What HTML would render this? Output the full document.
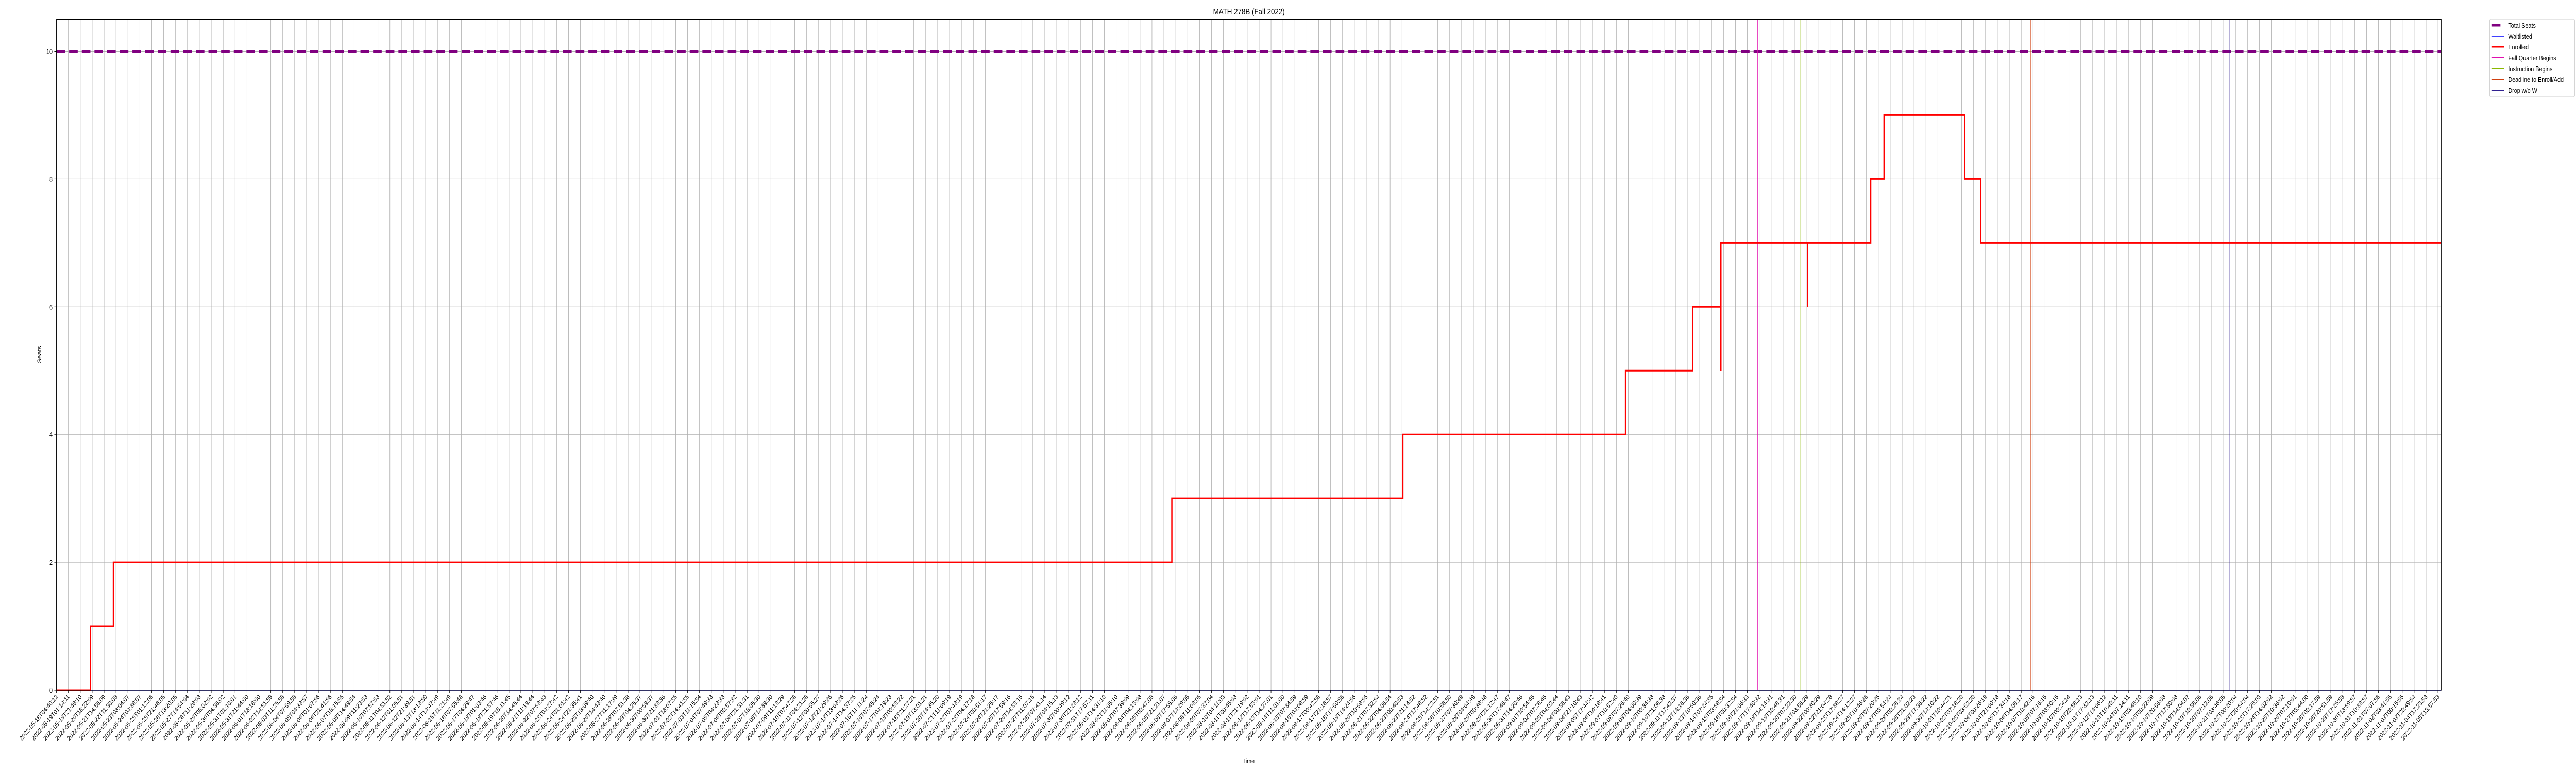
<!DOCTYPE html>
<html><head><meta charset="utf-8"><style>
html,body{margin:0;padding:0;background:#fff;overflow:hidden;width:100%;height:100%;}
svg{display:block;width:100vw;height:100vh;font-family:"Liberation Sans","DejaVu Sans",sans-serif;}
</style></head><body>
<svg id="chart" viewBox="0 0 6000 1500" preserveAspectRatio="none" xmlns="http://www.w3.org/2000/svg">
<rect x="0" y="0" width="6000" height="1500" fill="#fff"/>
<text x="2909" y="28" font-size="16" text-anchor="middle" fill="#000">MATH 278B (Fall 2022)</text>
<text x="0" y="0" font-size="13" text-anchor="middle" fill="#000" transform="translate(96,688) rotate(-90)">Seats</text>
<text x="2908" y="1481" font-size="13" text-anchor="middle" fill="#000">Time</text>
<g id="grid"></g><g id="marks"></g><g id="axes"></g>
<g>
<rect x="5799" y="37" width="198" height="151" rx="3" fill="#fff" stroke="#ccc" stroke-width="1"/>
<g id="legend-items"></g>
</g>
</svg>
<script>
// ---- data ----
const tickStart = "2022-05-18T04:40:12";
const tickEnd = "2022-11-05T13:57:53";
const tickCount = 201;
const totalSeats = [10];
const waitlisted = [0];
const enrolledX = [0, 2.86, 4.78, 93.67, 113.07, 131.77, 137.40, 139.78, 139.78, 147.06, 147.06, 152.36, 153.48, 160.25, 161.59, 200.27];
const enrolledY = [0, 1, 2, 3, 4, 5, 6, 5, 7, 6, 7, 8, 9, 8, 7, 7];
const eventNames = ["Fall Quarter Begins", "Instruction Begins", "Deadline to Enroll/Add", "Drop w/o W"];
const eventX = [142.88, 146.49, 165.77, 182.53];
const yTicks = [0, 2, 4, 6, 8, 10];

// ---- layout ----
const L = 131.5, R = 5686, T = 37.5, B = 1339;
const xMin = 0, xMax = 200.27, yMin = 0, yMax = 10.5;
const xs = v => L + (v - xMin) / (xMax - xMin) * (R - L);
const ys = v => B - (v - yMin) / (yMax - yMin) * (B - T);
const NS = "http://www.w3.org/2000/svg";
function mk(tag, attrs, parent) {
  const e = document.createElementNS(NS, tag);
  for (const k in attrs) e.setAttribute(k, attrs[k]);
  parent.appendChild(e); return e;
}
const grid = document.getElementById('grid');
const marks = document.getElementById('marks');
const axes = document.getElementById('axes');

const t0 = Date.parse(tickStart + "Z"), t1 = Date.parse(tickEnd + "Z");
const tickLabels = [];
for (let i = 0; i < tickCount; i++) {
  const dd = new Date(t0 + (t1 - t0) * i / (tickCount - 1));
  tickLabels.push(dd.toISOString().slice(0, 19));
}

for (let i = 0; i < tickCount; i++) {
  const x = xs(i);
  const g = mk('line', {x1: x, x2: x, y1: T, y2: B, stroke: '#b0b0b0', 'stroke-width': 1}, grid);
  
  
  const tk = mk('line', {x1: x, x2: x, y1: B, y2: B + 5, stroke: '#000', 'stroke-width': 1}, axes);
  
  
  const t = mk('text', {x: 0, y: 0, 'font-size': 12.5, 'text-anchor': 'end', fill: '#000',
    transform: `translate(${x + 4},${B + 14}) rotate(-45)`}, axes);
  t.textContent = tickLabels[i];
  
  
}
yTicks.forEach(v => {
  const y = ys(v);
  const g = mk('line', {x1: L, x2: R, y1: y, y2: y, stroke: '#b0b0b0', 'stroke-width': 1}, grid);
  
  
  const tk = mk('line', {x1: L - 5, x2: L, y1: y, y2: y, stroke: '#000', 'stroke-width': 1}, axes);
  
  
  const t = mk('text', {x: L - 9, y: y + 5, 'font-size': 13, 'text-anchor': 'end', fill: '#000'}, axes);
  t.textContent = String(v);
  
  
});
const frame = mk('rect', {x: L, y: T, width: R - L, height: B - T, fill: 'none', stroke: '#000', 'stroke-width': 1.2}, axes);



const ts = mk('line', {x1: L, x2: R, y1: ys(totalSeats[0]), y2: ys(totalSeats[0]), stroke: '#800080', 'stroke-width': 5, 'stroke-dasharray': '20,9.5'}, marks);


const wl = mk('line', {x1: L, x2: R, y1: ys(waitlisted[0]), y2: ys(waitlisted[0]), stroke: '#0000ff', 'stroke-width': 1.5}, marks);


const eventColors = ['#e010b0', '#8ab800', '#d04010', '#302090'];
eventX.forEach((v, i) => {
  const x = xs(v);
  const e = mk('line', {x1: x, x2: x, y1: T, y2: B, stroke: eventColors[i], 'stroke-width': 1.6}, marks);
  
  
});
let d = `M${xs(enrolledX[0])},${ys(enrolledY[0])}`;
for (let i = 1; i < enrolledX.length; i++) {
  d += ` L${xs(enrolledX[i])},${ys(enrolledY[i - 1])} L${xs(enrolledX[i])},${ys(enrolledY[i])}`;
}
const en = mk('path', {d: d, fill: 'none', stroke: '#ff0000', 'stroke-width': 3}, marks);



const legendNames = ["Total Seats", "Waitlisted", "Enrolled"].concat(eventNames);
const legendColors = ['#800080', '#0000ff', '#ff0000'].concat(eventColors);
const legendWidths = [5, 1.5, 3, 2, 2, 2, 2];
const lg = document.getElementById('legend-items');
legendNames.forEach((n, i) => {
  const y = 49 + i * 21;
  const l = mk('line', {x1: 5803, x2: i === 0 ? 5824 : 5832, y1: y, y2: y, stroke: legendColors[i], 'stroke-width': legendWidths[i]}, lg);
  
  
  const t = mk('text', {x: 5842, y: y + 5, 'font-size': 13, fill: '#000'}, lg);
  t.textContent = n;
  
  
});
</script>
</body></html>
